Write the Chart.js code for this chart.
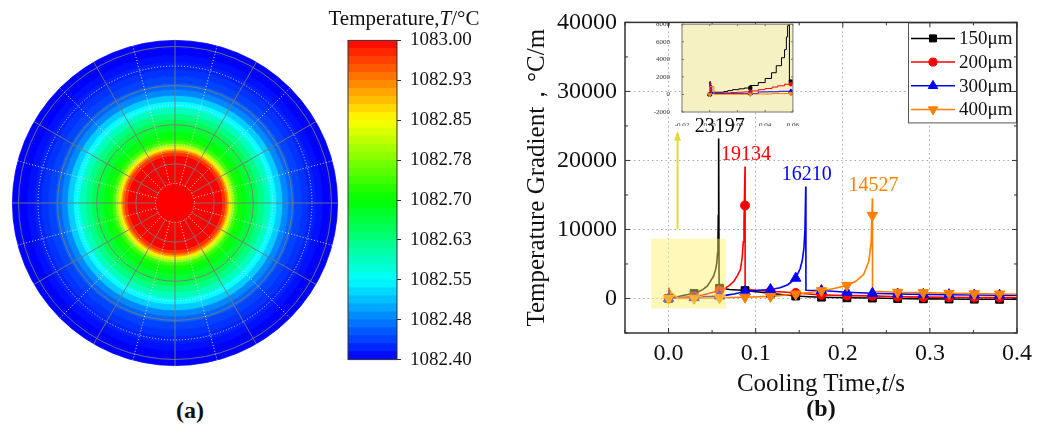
<!DOCTYPE html>
<html><head><meta charset="utf-8">
<script src="https://cdn.jsdelivr.net/npm/chart.js@4"></script>
<style>
html,body{margin:0;padding:0;background:#fff;}
body{width:1038px;height:433px;position:relative;overflow:hidden;font-family:"Liberation Serif","Times New Roman",serif;color:#111;}
canvas{position:absolute;}
.lbl{position:absolute;white-space:nowrap;transform:translate(-50%,-50%);line-height:1;}
</style></head><body>
<canvas id="rings" width="330" height="330" style="left:10px;top:38px"></canvas>
<canvas id="mesh" width="330" height="330" style="left:10px;top:38px"></canvas>
<canvas id="cbar" width="170" height="360" style="left:340px;top:20px"></canvas>
<canvas id="main" width="518" height="400" style="left:520px;top:0px"></canvas>
<canvas id="inset" width="150" height="110" style="left:650px;top:16px"></canvas>
<div class="lbl" style="left:404px;top:18px;font-size:21px">Temperature,<i>T</i>/°C</div>
<div class="lbl" style="left:821px;top:382px;font-size:25px">Cooling Time,<i>t</i>/s</div>
<div class="lbl" style="left:190px;top:410px;font-size:24px;font-weight:bold">(a)</div>
<div class="lbl" style="left:821px;top:408px;font-size:24px;font-weight:bold">(b)</div>
<script>
// ================= DATA =================
// (a) radial temperature field: outer radius of each ring (fraction of disc radius) and its temperature
const ringOuterRadius = [1.000,0.951,0.908,0.865,0.822,0.779,0.736,0.699,0.663,0.626,0.589,0.552,0.515,0.479,0.442,0.411,0.387,0.368,0.356,0.344,0.334,0.325,0.313,0.294];
const ringTemperature = [1082.40,1082.40,1082.41,1082.42,1082.43,1082.44,1082.46,1082.48,1082.52,1082.55,1082.59,1082.62,1082.65,1082.67,1082.69,1082.71,1082.74,1082.78,1082.82,1082.86,1082.90,1082.94,1082.97,1083.00];
const coreRadius = 0.113;
const meshCircles = [0,0.12,0.24,0.36,0.48,0.60,0.72,0.84,0.96];
const meshSpokes = ['','','','','','','','','','','','','','','','','','','','','','','',''];

// colour bar
const colorbarLevels = [1082.400,1082.415,1082.430,1082.445,1082.460,1082.475,1082.490,1082.505,1082.520,1082.535,1082.550,1082.565,1082.580,1082.595,1082.610,1082.625,1082.640,1082.655,1082.670,1082.685,1082.700,1082.715,1082.730,1082.745,1082.760,1082.775,1082.790,1082.805,1082.820,1082.835,1082.850,1082.865,1082.880,1082.895,1082.910,1082.925,1082.940,1082.955,1082.970,1082.985,1083.000];
const colorbarTicks = [1082.400,1082.475,1082.550,1082.625,1082.700,1082.775,1082.850,1082.925,1083.000];
const colorbarTickLabels = ['1082.40','1082.48','1082.55','1082.63','1082.70','1082.78','1082.85','1082.93','1083.00'];

// (b) temperature gradient vs cooling time
const t150 = [0,0.0006,0.0020,0.0102,0.0130,0.0165,0.0210,0.0250,0.0290,0.0350,0.0400,0.0446,0.0480,0.0518,0.0540,0.0553,0.0562,0.0567,0.0571,0.0575,0.0580,0.0700,0.0878,0.1030,0.1170,0.1320,0.1460,0.1610,0.1755,0.1900,0.2048,0.2340,0.2630,0.2925,0.3220,0.3510,0.3800,0.4000];
const g150 = [0,1450,80,250,330,440,545,640,730,1020,1350,1820,2470,3270,4180,5100,6550,7800,12000,23197,1500,1300,1150,950,750,550,350,260,190,140,100,60,0,-50,-80,-100,-120,-120];
const t200 = [0,0.0008,0.0045,0.0100,0.0150,0.0200,0.0250,0.0293,0.0350,0.0400,0.0450,0.0490,0.0540,0.0585,0.0650,0.0700,0.0750,0.0790,0.0825,0.0845,0.0858,0.0866,0.0878,0.0878,0.0880,0.1000,0.1170,0.1320,0.1460,0.1610,0.1755,0.1900,0.2048,0.2340,0.2630,0.2925,0.3220,0.3510,0.3800,0.4000];
const g200 = [0,1300,100,150,180,220,260,290,400,545,680,840,980,1160,1500,1900,2500,3300,4200,5900,8200,11000,19134,13475,1350,1200,1050,950,800,650,520,480,420,380,250,200,180,150,130,120];
const t300 = [0,0.0015,0.0065,0.0150,0.0250,0.0293,0.0350,0.0420,0.0500,0.0585,0.0650,0.0750,0.0878,0.1000,0.1170,0.1280,0.1370,0.1460,0.1510,0.1535,0.1554,0.1566,0.1575,0.1577,0.1755,0.2048,0.2340,0.2630,0.2925,0.3220,0.3510,0.3800,0.4000];
const g300 = [0,1000,100,100,110,110,110,290,300,360,450,650,1000,1150,1300,1550,2000,2940,4300,5500,7300,10000,16210,1200,1150,900,750,650,600,550,500,480,470];
const t400 = [0,0.0030,0.0110,0.0293,0.0450,0.0585,0.0878,0.1170,0.1300,0.1460,0.1600,0.1755,0.1900,0.2048,0.2150,0.2240,0.2299,0.2326,0.2340,0.2340,0.2343,0.2630,0.2925,0.3220,0.3510,0.3800,0.4000];
const g400 = [0,900,20,30,50,100,190,300,450,650,850,1130,1450,1900,2500,3500,5400,8200,14527,12050,1050,900,850,750,700,650,620];
const markerTimes = [0,0.0293,0.0585,0.0878,0.117,0.146,0.1755,0.2048,0.234,0.263,0.2925,0.322,0.351,0.380];
const m150 = [0,730,1480,1150,750,350,190,100,60,0,-50,-80,-100,-120];
const m200 = [0,290,1160,13475,1050,800,520,420,380,250,200,180,150,130];
const m300 = [0,110,360,1000,1300,2940,1150,900,750,650,600,550,500,480];
const m400 = [0,30,100,190,300,650,1130,1900,12050,900,850,750,700,650];
const seriesLabels = ['150μm','200μm','300μm','400μm'];
const peakTimes = [0.0575,0.0878,0.1575,0.2340];
const peakValues = [23197,19134,16210,14527];
const xTicks = [0,0.1,0.2,0.3,0.4];
const xTickLabels = ['0.0','0.1','0.2','0.3','0.4'];
const xMinorTicks = [-0.05,0.05,0.15,0.25,0.35];
const yTicks = [0,10000,20000,30000,40000];
const yTickLabels = ['0','10000','20000','30000','40000'];
const yMinorTicks = [-5000,5000,15000,25000,35000];
const zoomBoxT = [-0.02,0.066];
const zoomBoxG = [-1450,8650];
const arrowT = 0.0103;
const arrowG = [10000,24300];
const insetXTicks = [-0.02,0,0.02,0.04,0.06];
const insetXTickLabels = ['-0.02','0.00','0.02','0.04','0.06'];
const insetYTicks = [-2000,0,2000,4000,6000,8000];
const insetYTickLabels = ['-2000','0','2000','4000','6000','8000'];

// ================= STYLE / HELPERS =================
Chart.defaults.animation = false;
Chart.defaults.events = [];
Chart.defaults.font.family = 'Liberation Serif';
Chart.defaults.color = '#111';
Chart.defaults.plugins.legend.display = false;
Chart.defaults.plugins.tooltip.enabled = false;

function rainbow(f){
  f = Math.max(0, Math.min(1, f));
  let r,g,b;
  if (f < 0.25){ r=0; g=1020*f; b=255; }
  else if (f < 0.5){ r=0; g=255; b=255-1020*(f-0.25); }
  else if (f < 0.75){ r=1020*(f-0.5); g=255; b=0; }
  else { r=255; g=255-1020*(f-0.75); b=0; }
  return `rgb(${Math.round(r)},${Math.round(g)},${Math.round(b)})`;
}
const TMIN = 1082.4, TMAX = 1083.0;
const tempColor = T => rainbow((T-TMIN)/(TMAX-TMIN));

// ================= (a) rings =================
new Chart(document.getElementById('rings'), {
  type:'doughnut',
  data:{ labels:['T'], datasets: ringOuterRadius.map((r,i)=>{
    const inner = i < ringOuterRadius.length-1 ? ringOuterRadius[i+1] : 0;
    const c = tempColor(ringTemperature[i]);
    return { data:[1], weight: r-inner, backgroundColor:c, borderColor:c, borderWidth:0.8 };
  })},
  options:{ responsive:false, cutout:0, layout:{padding:2} }
});

const solidCol = 'rgba(120,120,120,0.9)', dotCol = 'rgba(225,225,225,0.95)';
new Chart(document.getElementById('mesh'), {
  type:'radar',
  data:{ labels: meshSpokes, datasets:[{ data: meshSpokes.map(()=>coreRadius), backgroundColor: tempColor(TMAX), borderWidth:0, pointRadius:0, fill:true }]},
  options:{ responsive:false, layout:{padding:2},
    scales:{ r:{ min:0, max:1,
      afterBuildTicks: s => { s.ticks = meshCircles.map(v=>({value:v})); },
      ticks:{display:false}, pointLabels:{display:false},
      grid:{ circular:true, lineWidth:1, color: c => c.index%2 ? dotCol : solidCol },
      border:{ dash: c => c.index%2 ? [1,2] : [] },
      angleLines:{ display:true, lineWidth:1, color: c => c.index%2 ? dotCol : solidCol, borderDash: c => c.index%2 ? [1,2] : [] }
    }}
  }
});

// ================= colour bar =================
const frameOnly = (color,width) => ({ id:'frameOnly', afterDraw(chart){ const a=chart.chartArea, ctx=chart.ctx; ctx.save(); ctx.strokeStyle=color; ctx.lineWidth=width; ctx.strokeRect(a.left,a.top,a.right-a.left,a.bottom-a.top); ctx.restore(); } });
new Chart(document.getElementById('cbar'), {
  type:'bar',
  data:{ labels:['T'], datasets: colorbarLevels.slice(0,-1).map((lo,i)=>{
    const hi = colorbarLevels[i+1];
    return { data:[[lo,hi]], backgroundColor: tempColor((lo+hi)/2), borderWidth:0, grouped:false, barPercentage:1, categoryPercentage:1 };
  })},
  options:{ responsive:false, layout:{padding:{left:8,top:19,bottom:15,right:0}},
    scales:{
      x:{ display:false },
      y:{ position:'right', min:TMIN, max:TMAX,
        afterBuildTicks: s => { s.ticks = colorbarTicks.map(v=>({value:v})); },
        afterFit: s => { s.width = 113; },
        ticks:{ font:{size:19}, color:'#111', padding:9, callback: v => colorbarTickLabels[colorbarTicks.indexOf(v)] },
        grid:{ drawOnChartArea:false, drawTicks:true, tickLength:4, color:'#333' },
        border:{ display:false }
      }
    }
  },
  plugins:[frameOnly('#333',1)]
});

// ================= (b) main =================
const series = [
  {label:seriesLabels[0], t:t150, g:g150, m:m150, color:'#000000', style:'rect', r:5.5, rot:0},
  {label:seriesLabels[1], t:t200, g:g200, m:m200, color:'#ff0000', style:'circle', r:4.5, rot:0},
  {label:seriesLabels[2], t:t300, g:g300, m:m300, color:'#0000ff', style:'triangle', r:6, rot:0},
  {label:seriesLabels[3], t:t400, g:g400, m:m400, color:'#ff8000', style:'triangle', r:6, rot:180}
];
function buildDatasets(lineW, markScale, stepped){
  const ds = [];
  series.forEach((s,i)=>ds.push({ label:s.label, data:s.t.map((x,j)=>({x, y:s.g[j]})), showLine:true, stepped,
    borderColor:s.color, backgroundColor:s.color, borderWidth:lineW, pointRadius:0, order:10-i }));
  series.forEach((s,i)=>ds.push({ label:s.label+' marker', data:markerTimes.map((x,j)=>({x, y:s.m[j]})), showLine:false,
    pointStyle:s.style, pointRadius:s.r*markScale, pointRotation:s.rot, pointBackgroundColor:s.color, pointBorderColor:s.color, pointBorderWidth:1, order:4-i }));
  return ds;
}
function drawTicks(ctx, a, xs, ys, xVals, yVals, len){
  ctx.beginPath();
  xVals.forEach(v=>{ const p=xs.getPixelForValue(v); ctx.moveTo(p,a.bottom); ctx.lineTo(p,a.bottom-len); ctx.moveTo(p,a.top); ctx.lineTo(p,a.top+len); });
  yVals.forEach(v=>{ const p=ys.getPixelForValue(v); ctx.moveTo(a.left,p); ctx.lineTo(a.left+len,p); ctx.moveTo(a.right,p); ctx.lineTo(a.right-len,p); });
  ctx.stroke();
}
const mainDecor = {
  id:'mainDecor',
  afterDatasetsDraw(chart){
    const {ctx, scales:{x,y}} = chart;
    ctx.save();
    const x0=x.getPixelForValue(zoomBoxT[0]), x1=x.getPixelForValue(zoomBoxT[1]);
    const y0=y.getPixelForValue(zoomBoxG[1]), y1=y.getPixelForValue(zoomBoxG[0]);
    ctx.fillStyle='rgba(255,240,100,0.45)';
    ctx.fillRect(x0,y0,x1-x0,y1-y0);
    const ax=x.getPixelForValue(arrowT), ay0=y.getPixelForValue(arrowG[0]), ay1=y.getPixelForValue(arrowG[1]);
    ctx.strokeStyle='#e5da3a'; ctx.lineWidth=2;
    ctx.beginPath(); ctx.moveTo(ax,ay0); ctx.lineTo(ax,ay1+8); ctx.stroke();
    ctx.fillStyle='#e5da3a';
    ctx.beginPath(); ctx.moveTo(ax,ay1); ctx.lineTo(ax-3.5,ay1+10); ctx.lineTo(ax+3.5,ay1+10); ctx.closePath(); ctx.fill();
    ctx.font='20px "Liberation Serif"'; ctx.textAlign='center'; ctx.textBaseline='middle';
    peakTimes.forEach((t,i)=>{ ctx.fillStyle=series[i].color; ctx.fillText(String(peakValues[i]), x.getPixelForValue(t)+1, y.getPixelForValue(peakValues[i])-12); });
    ctx.restore();
  },
  afterDraw(chart){
    const {ctx, chartArea:a, scales:{x,y}} = chart;
    ctx.save();
    // legend
    const w=109, h=101, L=a.right-w, T=a.top;
    ctx.fillStyle='#fff'; ctx.fillRect(L,T,w,h);
    ctx.strokeStyle='#555'; ctx.lineWidth=1; ctx.strokeRect(L+0.5,T+0.5,w-1,h-1);
    ctx.font='19px "Liberation Serif"'; ctx.textAlign='left'; ctx.textBaseline='middle';
    series.forEach((s,i)=>{
      const yy = T+16+i*23.7;
      ctx.strokeStyle=s.color; ctx.fillStyle=s.color; ctx.lineWidth=1.5;
      ctx.beginPath(); ctx.moveTo(L+3,yy); ctx.lineTo(L+47,yy); ctx.stroke();
      ctx.lineWidth=1;
      Chart.helpers.drawPoint(ctx, {pointStyle:s.style, radius:s.r*0.9, rotation:s.rot, borderWidth:1}, L+25, yy);
      ctx.fillStyle='#111';
      ctx.fillText(s.label, L+51, yy+1);
    });
    // frame and inward ticks
    ctx.strokeStyle='#333'; ctx.lineWidth=1.5;
    ctx.strokeRect(a.left,a.top,a.right-a.left,a.bottom-a.top);
    ctx.lineWidth=1;
    drawTicks(ctx,a,x,y,xTicks,yTicks,5);
    drawTicks(ctx,a,x,y,xMinorTicks,yMinorTicks,3);
    ctx.restore();
  }
};
new Chart(document.getElementById('main'), {
  type:'scatter',
  data:{ datasets: buildDatasets(1.6, 1, false) },
  options:{ responsive:false, layout:{padding:{top:16,right:21,left:0,bottom:0}},
    scales:{
      x:{ type:'linear', min:-0.05, max:0.4,
        afterBuildTicks: s => { s.ticks = xTicks.map(v=>({value:v})); },
        afterFit: s => { s.height = 67; },
        ticks:{ font:{size:24}, color:'#111', padding:6, maxRotation:0, autoSkip:false, callback: v => xTickLabels[xTicks.indexOf(v)] },
        grid:{ drawTicks:false, lineWidth:1, color: c => (c.tick && c.tick.value < 0.39) ? '#a8a8a8' : 'rgba(0,0,0,0)' },
        border:{ display:false, dash:[1.5,3] }
      },
      y:{ type:'linear', min:-5000, max:40000,
        afterBuildTicks: s => { s.ticks = yTicks.map(v=>({value:v})); },
        afterFit: s => { s.width = 105; },
        ticks:{ font:{size:24}, color:'#111', padding:8, callback: v => yTickLabels[yTicks.indexOf(v)] },
        grid:{ drawTicks:false, lineWidth:1, color: c => (c.tick && c.tick.value < 39000) ? '#a8a8a8' : 'rgba(0,0,0,0)' },
        border:{ display:false, dash:[1.5,3] },
        title:{ display:true, text:'Temperature Gradient，°C/m', font:{size:25}, color:'#111', padding:{top:2,bottom:0} }
      }
    }
  },
  plugins:[mainDecor]
});

// ================= inset =================
const insetDecor = {
  id:'insetDecor',
  beforeDatasetsDraw(chart){ const a=chart.chartArea, ctx=chart.ctx; ctx.save(); ctx.fillStyle='#f6f1c3'; ctx.fillRect(a.left,a.top,a.right-a.left,a.bottom-a.top); ctx.restore(); },
  afterDraw(chart){
    const {ctx, chartArea:a, scales:{x,y}} = chart;
    ctx.save(); ctx.strokeStyle='#777'; ctx.lineWidth=1;
    ctx.strokeRect(a.left,a.top,a.right-a.left,a.bottom-a.top);
    drawTicks(ctx,a,x,y,insetXTicks,insetYTicks,2);
    ctx.restore();
  }
};
new Chart(document.getElementById('inset'), {
  type:'scatter',
  data:{ datasets: buildDatasets(1, 0.4, 'after') },
  options:{ responsive:false, layout:{padding:{top:6,right:3,left:0,bottom:0}},
    scales:{
      x:{ type:'linear', min:-0.02, max:0.06,
        afterBuildTicks: s => { s.ticks = insetXTicks.map(v=>({value:v})); },
        afterFit: s => { s.height = 14; },
        ticks:{ font:{size:7}, color:'#333', padding:1, maxRotation:0, autoSkip:false, callback: v => insetXTickLabels[insetXTicks.indexOf(v)] },
        grid:{ display:false }, border:{ display:false }
      },
      y:{ type:'linear', min:-2000, max:8000,
        afterBuildTicks: s => { s.ticks = insetYTicks.map(v=>({value:v})); },
        afterFit: s => { s.width = 32; },
        ticks:{ font:{size:7}, color:'#333', padding:4, callback: v => insetYTickLabels[insetYTicks.indexOf(v)] },
        grid:{ display:false }, border:{ display:false }
      }
    }
  },
  plugins:[insetDecor]
});
</script>
</body></html>
